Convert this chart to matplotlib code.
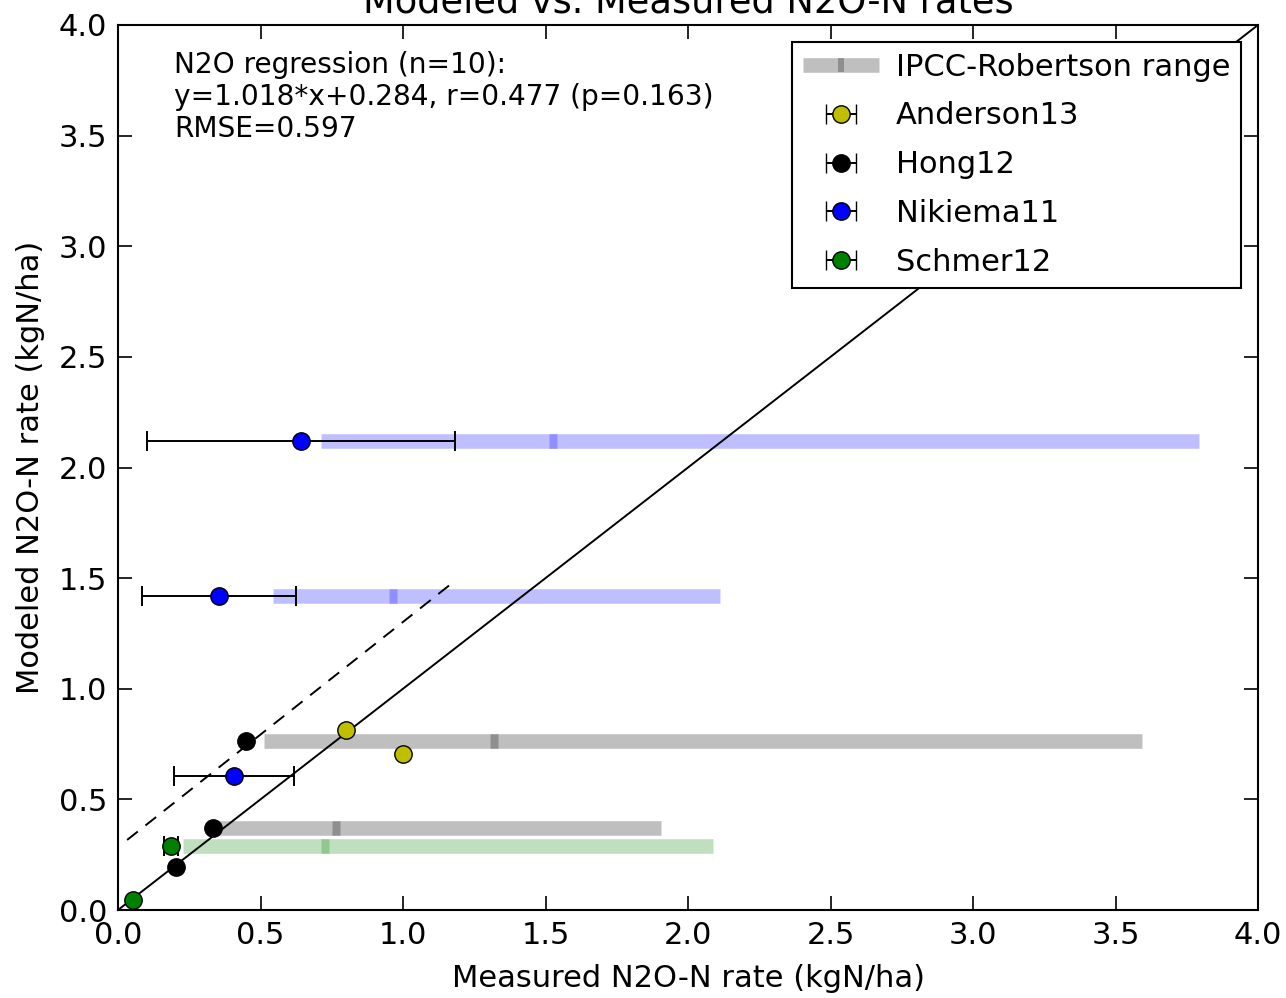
import matplotlib
matplotlib.use("Agg")
import matplotlib.pyplot as plt
from matplotlib.lines import Line2D
import numpy as np

# ---- data ----
studies = ["Anderson13", "Hong12", "Nikiema11", "Schmer12"]
colors = ["y", "k", "b", "g"]
measured = {
    "Anderson13": [0.80, 1.00],
    "Hong12": [0.204, 0.333, 0.449],
    "Nikiema11": [0.407, 0.354, 0.642],
    "Schmer12": [0.053, 0.186],
}
modeled = {
    "Anderson13": [0.814, 0.705],
    "Hong12": [0.194, 0.371, 0.764],
    "Nikiema11": [0.606, 1.419, 2.12],
    "Schmer12": [0.045, 0.289],
}
meas_err = {
    "Anderson13": [0.0, 0.0],
    "Hong12": [0.0, 0.0, 0.0],
    "Nikiema11": [0.21, 0.27, 0.54],
    "Schmer12": [0.0, 0.026],
}
# IPCC-Robertson ranges: (study, modeled y, low, mid, high)
range_study = ["Nikiema11", "Nikiema11", "Hong12", "Hong12", "Schmer12"]
range_y = [2.12, 1.419, 0.764, 0.371, 0.289]
range_lo = [0.712, 0.544, 0.512, 0.340, 0.228]
range_mid = [1.526, 0.965, 1.319, 0.765, 0.726]
range_hi = [3.793, 2.112, 3.593, 1.905, 2.088]

reg_slope, reg_icpt = 1.018, 0.284
reg_x = [0.032, 1.18]
annot = "N2O regression (n=10):\ny=1.018*x+0.284, r=0.477 (p=0.163)\nRMSE=0.597"

plt.rcParams["font.family"] = "DejaVu Sans"
plt.rcParams["font.size"] = 22

fig = plt.figure(figsize=(12.86, 9.98), dpi=100)
ax = fig.add_axes([118/1286, 88/998, 1140/1286, 885/998])

col_of = dict(zip(studies, colors))
LW_RANGE = 10.5

# ranges
for s, y, lo, mid, hi in zip(range_study, range_y, range_lo, range_mid, range_hi):
    c = col_of[s]
    ax.plot([lo, hi], [y, y], color=c, alpha=0.25, lw=LW_RANGE, solid_capstyle="butt", zorder=1)
    ax.plot([mid - 0.013, mid + 0.013], [y, y], color=c, alpha=0.25, lw=LW_RANGE,
            solid_capstyle="butt", zorder=1)

# 1:1 line
ax.plot([0, 4], [0, 4], color="k", lw=1.4, zorder=2)
# regression line
rx = np.array(reg_x)
ax.plot(rx, reg_slope * rx + reg_icpt, color="k", lw=1.4, ls=(0, (7, 5)), zorder=2)

bar_path = [(-0.35, -1), (0.35, -1), (0.35, 1), (-0.35, 1), (-0.35, -1)]
range_handle = Line2D([], [], color="k", alpha=0.25, lw=LW_RANGE, solid_capstyle="butt",
                      marker=bar_path, markersize=LW_RANGE, markeredgewidth=0,
                      markerfacecolor="k")
handles = [range_handle]
labels = ["IPCC-Robertson range"]
ekw = dict(ecolor="k", elinewidth=1.4, capsize=7, capthick=1.4)
for s, c in zip(studies, colors):
    mx = np.array(measured[s]); my = np.array(modeled[s]); me = np.array(meas_err[s])
    nz = me > 0
    if nz.any():
        ax.errorbar(mx[nz], my[nz], xerr=me[nz], fmt="none", zorder=2.5, **ekw)
    ax.plot(mx, my, "o", color=c, mec="k", mew=1, ms=12.5, zorder=3)
    # legend proxy with errorbar glyph
    h = ax.errorbar([np.nan], [np.nan], xerr=[0.1], fmt="o", color=c, mec="k", mew=1,
                    ms=12.5, **ekw)
    handles.append(h)
    labels.append(s)

ticks = np.arange(0, 4.01, 0.5)
ax.set_xlim(0, 4)
ax.set_ylim(0, 4)
ax.set_xticks(ticks)
ax.set_yticks(ticks)
ax.set_xticklabels([f"{v:.1f}" for v in ticks])
ax.set_yticklabels([f"{v:.1f}" for v in ticks])
ax.tick_params(direction="in", top=True, right=True, length=10, width=1.2, pad=8,
               labelsize=22)
for sp in ax.spines.values():
    sp.set_linewidth(1.5)

ax.set_xlabel("Measured N2O-N rate (kgN/ha)", fontsize=22, labelpad=10)
ax.set_ylabel("Modeled N2O-N rate (kgN/ha)", fontsize=22, labelpad=9.5)
ax.set_title("Modeled vs. Measured N2O-N rates", fontsize=26.5, pad=9)

ax.text(0.049, 0.971, annot, transform=ax.transAxes, fontsize=20.2, va="top", ha="left",
        linespacing=1.2)

leg = ax.legend(handles, labels, loc="upper right", numpoints=1, fontsize=22,
                handlelength=2.5, handletextpad=0.55, borderpad=0.35, labelspacing=0.65,
                borderaxespad=0.55, fancybox=False, framealpha=1)
leg.get_frame().set_edgecolor("k")
leg.get_frame().set_linewidth(1.5)

fig.savefig("out.png", dpi=100, facecolor="white")
